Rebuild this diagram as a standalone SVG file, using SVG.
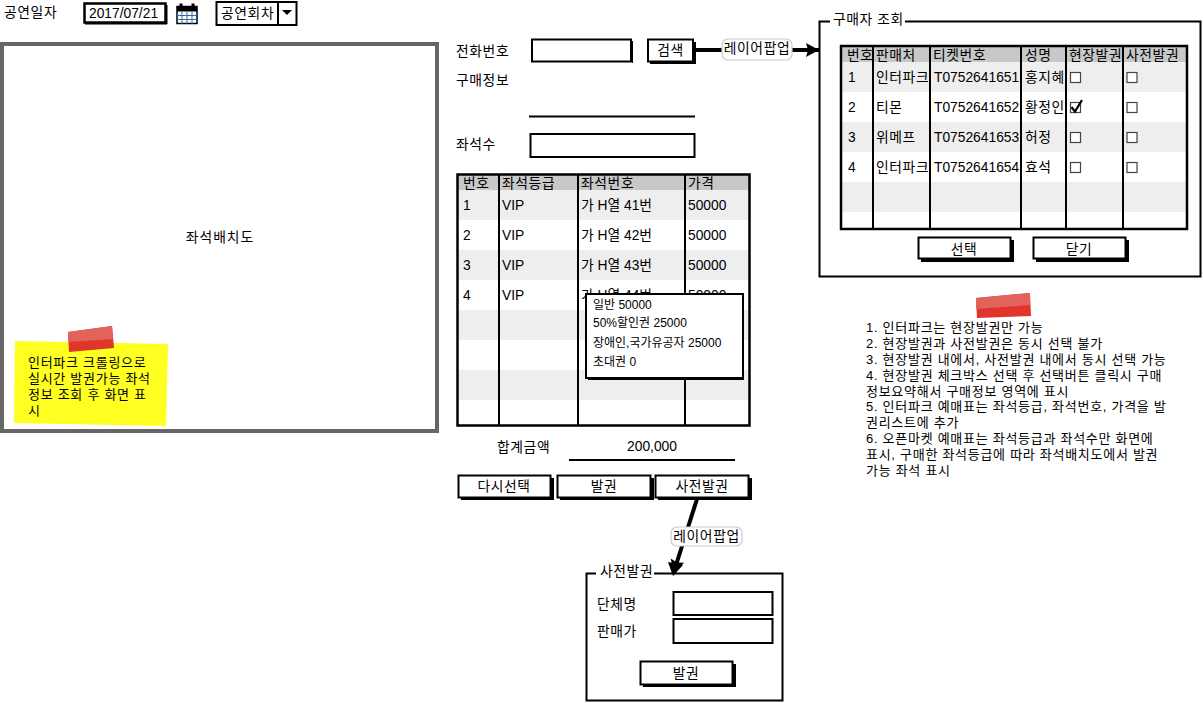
<svg xmlns="http://www.w3.org/2000/svg" width="1204" height="703" viewBox="0 0 1204 703">
<style>
text{font-family:"Liberation Sans","Noto Sans CJK KR",sans-serif;font-size:13.8px;fill:#000}
.k{letter-spacing:.6px}
.c{text-anchor:middle}
.s{font-size:12px}
.n{font-size:13px;letter-spacing:.72px}
.box{fill:#fff;stroke:#000;stroke-width:2}
.shadow{fill:#000}
.grid{stroke:#000;stroke-width:2;fill:none}
.frame{fill:#fff;stroke:#000;stroke-width:2}
.head{fill:#c8c8c8}
.odd{fill:#eee}
.cb{fill:#fff;stroke:#444;stroke-width:1.2}
.tape{fill:#e0352b}
.tapet{fill:#e2635c}
.pill{fill:#fff;stroke:#ccc;stroke-width:1.2}
.conn{stroke:#000;stroke-width:4;fill:none}
</style>
<defs>
<marker id="arrow" markerUnits="userSpaceOnUse" markerWidth="18" markerHeight="18" refX="14" refY="8" orient="auto"><path d="M1 1L14 8L1 15L3 8Z" fill="#000"/></marker>
</defs>
<g id="date-row">
<text x="4" y="17" class="k">공연일자</text>
<rect x="84.500" y="3.500" width="81" height="19" fill="#fff" stroke="#000" stroke-width="2.500"/><rect x="165" y="5" width="2.500" height="19" class="shadow"/><rect x="85" y="22.500" width="82" height="2" class="shadow"/>
<text x="89" y="18">2017/07/21</text>
</g>
<g id="calendar">
<rect x="177" y="6.500" width="20" height="17" fill="#fff" stroke="#000" stroke-width="1.500"/>
<rect x="177" y="6.500" width="20" height="5" fill="#000"/>
<path d="M177 15.500H197M177 19.500H197M182 12V24M187 12V24M192 12V24" stroke="#2b6ca8" stroke-width="1" fill="none"/>
<path d="M181 7V3.500M193 7V3.500" stroke="#000" stroke-width="3" fill="none"/>
</g>
<g id="combo">
<rect x="216.500" y="2" width="80" height="23" class="box"/>
<path d="M278 2V25" class="grid"/>
<text x="221" y="18" class="k">공연회차</text>
<path d="M282 10H292L287 15Z" fill="#000"/>
</g>
<g id="seatmap">
<rect x="2" y="44" width="435" height="387" fill="#fff" stroke="#666" stroke-width="4"/>
<text x="220" y="242" class="c" style="letter-spacing:1px">좌석배치도</text>
</g>
<g id="sticky">
<path d="M15 341L168 344L166 426L14 423Z" fill="#ffff22"/>
<path d="M68 332L112 326L114 348L69 352Z" class="tape"/>
<path d="M68 332L112 326L113 339L68 342Z" class="tapet"/>
<text x="28" y="367" class="n">인터파크 크롤링으로</text>
<text x="28" y="383" class="n">실시간 발권가능 좌석</text>
<text x="28" y="399" class="n">정보 조회 후 화면 표</text>
<text x="28" y="415" class="n">시</text>
</g>
<g id="connectors">
<path d="M696 50H819" class="conn" marker-end="url(#arrow)"/>
<path d="M697 499L673.500 573" class="conn" marker-end="url(#arrow)"/>
</g>
<g id="phone">
<text x="456" y="56" class="k">전화번호</text>
<rect x="532" y="39.500" width="99" height="22" class="box"/><rect x="632" y="41" width="1" height="22" class="shadow"/>
</g>
<g id="search">
<rect x="650" y="42" width="46" height="22" class="shadow"/>
<rect x="648" y="39.500" width="45" height="22" class="box"/>
<text x="670.500" y="55" class="c k">검색</text>
</g>
<g id="popup-label-1">
<rect x="722" y="39" width="70" height="21" rx="6" class="pill"/>
<text x="757" y="53" class="c k">레이어팝업</text>
</g>
<g id="purchase">
<text x="456" y="85" class="k">구매정보</text>
<path d="M529 116.500H695" class="grid"/>
</g>
<g id="seatcount">
<text x="456" y="149" class="k">좌석수</text>
<rect x="530.500" y="134" width="164" height="23" class="box"/>
</g>
<g id="seat-table">
<rect x="458" y="175" width="292" height="251" fill="#fff"/>
<rect x="458" y="175" width="292" height="15" class="head"/>
<rect x="458" y="190" width="292" height="30" class="odd"/><rect x="458" y="250" width="292" height="30" class="odd"/><rect x="458" y="310" width="292" height="30" class="odd"/><rect x="458" y="370" width="292" height="30" class="odd"/>
<path d="M499 175V426M578 175V426M685 175V426" class="grid"/>
<rect x="457.500" y="174.500" width="292" height="251" fill="none" stroke="#000" stroke-width="2.500"/>
<text x="463" y="188" class="k">번호</text><text x="502" y="188" class="k">좌석등급</text><text x="581" y="188" class="k">좌석번호</text><text x="688" y="188" class="k">가격</text>
<text x="463" y="210">1</text><text x="502" y="210">VIP</text><text x="581" y="210">가 H열 41번</text><text x="688" y="210">50000</text>
<text x="463" y="240">2</text><text x="502" y="240">VIP</text><text x="581" y="240">가 H열 42번</text><text x="688" y="240">50000</text>
<text x="463" y="270">3</text><text x="502" y="270">VIP</text><text x="581" y="270">가 H열 43번</text><text x="688" y="270">50000</text>
<text x="463" y="300">4</text><text x="502" y="300">VIP</text><text x="581" y="300">가 H열 44번</text><text x="688" y="300">50000</text>
</g>
<g id="price-popup">
<rect x="586" y="294" width="157" height="84" class="box"/><rect x="588" y="378" width="156" height="2" class="shadow"/>
<text x="593" y="309" class="s">일반 50000</text>
<text x="593" y="327" class="s">50%할인권 25000</text>
<text x="593" y="347" class="s">장애인,국가유공자 25000</text>
<text x="593" y="366" class="s">초대권 0</text>
</g>
<g id="total">
<text x="497" y="452" class="k">합계금액</text>
<text x="652" y="451" class="c">200,000</text>
<path d="M569 460H735" class="grid"/>
</g>
<g id="btn-reset">
<rect x="461" y="478" width="93" height="22" class="shadow"/>
<rect x="458.500" y="475.500" width="92" height="22" class="box"/>
<text x="504" y="491" class="c k">다시선택</text>
</g>
<g id="btn-issue">
<rect x="560" y="478" width="94" height="22" class="shadow"/>
<rect x="557.500" y="475.500" width="93" height="22" class="box"/>
<text x="604" y="491" class="c k">발권</text>
</g>
<g id="btn-pre">
<rect x="658" y="478" width="94" height="22" class="shadow"/>
<rect x="655.500" y="475.500" width="93" height="22" class="box"/>
<text x="702" y="491" class="c k">사전발권</text>
</g>
<g id="popup-label-2">
<rect x="671" y="527" width="71" height="19" rx="6" class="pill"/>
<text x="706.500" y="541" class="c k">레이어팝업</text>
</g>
<g id="pre-panel">
<rect x="586.500" y="573.500" width="196" height="127" class="frame"/>
<rect x="596" y="565" width="58" height="12" fill="#fff"/>
<path d="M668 562L683 565L673 576Z" fill="#000"/>
<text x="600" y="576" class="k">사전발권</text>
<text x="597" y="609" class="k">단체명</text>
<text x="597" y="636" class="k">판매가</text>
<rect x="673.500" y="592" width="99" height="23" class="box"/>
<rect x="673.500" y="619" width="99" height="24" class="box"/>
<rect x="643" y="664" width="93" height="23" class="shadow"/>
<rect x="640.500" y="661.500" width="92" height="23" class="box"/>
<text x="686" y="678" class="c k">발권</text>
</g>
<g id="buyer-panel">
<rect x="819.500" y="21.500" width="381" height="255" class="frame"/>
<rect x="830" y="15" width="75" height="12" fill="#fff"/>
<text x="833" y="24" class="k">구매자 조회</text>
<rect x="841" y="46" width="346" height="183" fill="#fff"/>
<rect x="841" y="46" width="346" height="16" class="head"/>
<rect x="841" y="62" width="346" height="30" class="odd"/><rect x="841" y="122" width="346" height="30" class="odd"/><rect x="841" y="182" width="346" height="30" class="odd"/>
<path d="M873 46V229M930 46V229M1021 46V229M1066 46V229M1123 46V229" class="grid"/>
<rect x="841" y="46" width="346" height="183" fill="none" stroke="#000" stroke-width="2.500"/>
<text x="847" y="60" class="k">번호</text><text x="876" y="60" class="k">판매처</text><text x="933" y="60" class="k">티켓번호</text><text x="1025" y="60" class="k">성명</text><text x="1069" y="60" class="k">현장발권</text><text x="1126" y="60" class="k">사전발권</text>
<text x="848" y="82">1</text><text x="876" y="82" class="k">인터파크</text><text x="934" y="82">T0752641651</text><text x="1025" y="82" class="k">홍지혜</text>
<text x="848" y="112">2</text><text x="876" y="112" class="k">티몬</text><text x="934" y="112">T0752641652</text><text x="1025" y="112" class="k">황정인</text>
<text x="848" y="142">3</text><text x="876" y="142" class="k">위메프</text><text x="934" y="142">T0752641653</text><text x="1025" y="142" class="k">허정</text>
<text x="848" y="172">4</text><text x="876" y="172" class="k">인터파크</text><text x="934" y="172">T0752641654</text><text x="1025" y="172" class="k">효석</text>
<rect x="1070.500" y="72.500" width="10" height="10" class="cb"/><rect x="1127" y="72.500" width="10" height="10" class="cb"/>
<rect x="1070.500" y="102.500" width="10" height="10" class="cb"/><rect x="1127" y="102.500" width="10" height="10" class="cb"/>
<path d="M1071.500 107L1075 111.500L1082 100" fill="none" stroke="#000" stroke-width="2.200"/>
<rect x="1070.500" y="132.500" width="10" height="10" class="cb"/><rect x="1127" y="132.500" width="10" height="10" class="cb"/>
<rect x="1070.500" y="162.500" width="10" height="10" class="cb"/><rect x="1127" y="162.500" width="10" height="10" class="cb"/>
<rect x="921" y="240" width="93" height="22" class="shadow"/>
<rect x="918.500" y="237.500" width="92" height="21" class="box"/>
<text x="964" y="254" class="c k">선택</text>
<rect x="1036" y="240" width="93" height="22" class="shadow"/>
<rect x="1033.500" y="237.500" width="92" height="21" class="box"/>
<text x="1079" y="254" class="c k">닫기</text>
</g>
<g id="notes">
<path d="M976 298L1030 293L1031 316L977 318Z" class="tape"/>
<path d="M976 298L1030 293L1030 305L976 309Z" class="tapet"/>
<text x="866" y="332" class="n">1. 인터파크는 현장발권만 가능</text>
<text x="866" y="348" class="n">2. 현장발권과 사전발권은 동시 선택 불가</text>
<text x="866" y="364" class="n">3. 현장발권 내에서, 사전발권 내에서 동시 선택 가능</text>
<text x="866" y="380" class="n">4. 현장발권 체크박스 선택 후 선택버튼 클릭시 구매</text>
<text x="866" y="396" class="n">정보요약해서 구매정보 영역에 표시</text>
<text x="866" y="411" class="n">5. 인터파크 예매표는 좌석등급, 좌석번호, 가격을 발</text>
<text x="866" y="427" class="n">권리스트에 추가</text>
<text x="866" y="443" class="n">6. 오픈마켓 예매표는 좌석등급과 좌석수만 화면에</text>
<text x="866" y="459" class="n">표시, 구매한 좌석등급에 따라 좌석배치도에서 발권</text>
<text x="866" y="475" class="n">가능 좌석 표시</text>
</g>
</svg>
